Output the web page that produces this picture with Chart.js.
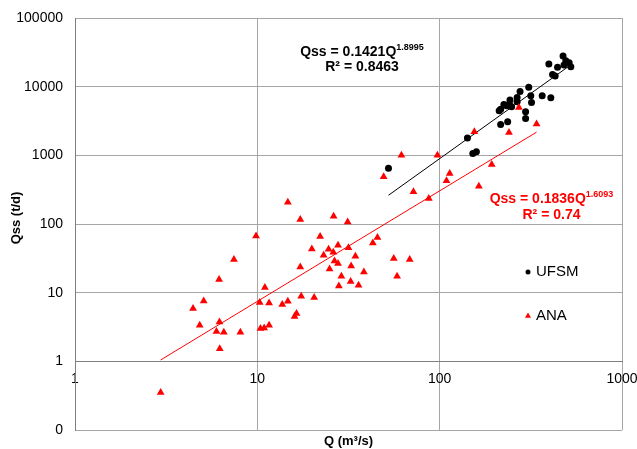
<!DOCTYPE html>
<html>
<head>
<meta charset="utf-8">
<title>Qss x Q</title>
<script src="https://cdn.jsdelivr.net/npm/chart.js@4.4.0/dist/chart.umd.min.js"></script>
<style>
  html, body { margin: 0; padding: 0; background: #fff; }
</style>
</head>
<body>
<canvas id="qssChart" width="637" height="449"></canvas>
<script>
// UFSM measurements (black dots)
const ufsmQ = [52.4, 142, 152, 159, 212, 216, 216, 225, 233, 236, 241, 243, 248, 266, 266, 276,
  296, 296, 308, 316, 319, 365, 397, 407, 416, 430, 443, 475, 481, 492, 513, 524];
const ufsmQss = [650, 1782, 1067, 1126, 4460, 4670, 2820, 5520, 5270, 3080, 5570, 6380, 5090, 6980, 6030, 8530,
  4300, 3450, 9770, 7360, 5900, 7360, 21300, 6890, 15100, 14300, 19100, 27900, 20700, 23900, 22300, 19500];

// ANA measurements (red triangles)
const anaQ = [2.95, 4.44, 4.83, 5.08, 5.97, 6.17, 6.2, 6.22, 6.55, 7.44, 8.07, 9.84, 10.3, 10.4, 10.9, 11.0,
  11.6, 11.6, 13.7, 14.7, 14.7, 16.0, 16.4, 17.2, 17.2, 17.4, 19.9, 20.5, 22.1, 23.1, 24.6, 24.9,
  26.1, 26.2, 26.5, 27.7, 27.7, 28, 28.9, 31.3, 31.6, 32.5, 32.7, 34.5, 35.9, 38.4, 43, 45.6,
  49.3, 56, 58.4, 61.7, 68.5, 71.8, 87.2, 97.2, 109, 113.5, 155, 164, 193, 240, 272, 340];
const anaQss = [0.353, 5.86, 3.35, 7.57, 2.71, 15.5, 3.74, 1.53, 2.65, 30.4, 2.65, 67, 7.2, 3.0, 3.05, 11.9,
  7.1, 3.35, 6.7, 7.5, 208, 4.5, 4.96, 116, 23.7, 8.87, 43.4, 8.48, 66, 35, 43, 22.1,
  38.8, 130, 29, 49, 26.6, 12.5, 17.3, 107, 45, 14.5, 24.5, 34, 12.8, 20, 53, 63.6,
  486, 31.4, 17.3, 1007, 30.4, 294, 235, 1000, 425, 545, 2200, 356, 737, 2157, 4990, 2850];

const xTicks = [1, 10, 100, 1000];
const yTicks = [0.1, 1, 10, 100, 1000, 10000, 100000];

// power trend lines as printed on the chart
const ufsmFit = { a: 0.1421, b: 1.8995, r2: '0.8463' };
const anaFit = { a: 0.1836, b: 1.6093, r2: '0.74' };

const FONT = "'Liberation Sans', Arial, sans-serif";

const toPoints = (xs, ys) => xs.map((x, i) => ({ x: x, y: ys[i] }));

const trendLine = (fit, xs) => {
  const q0 = Math.min(...xs);
  const q1 = Math.max(...xs);
  return [
    { x: q0, y: fit.a * Math.pow(q0, fit.b) },
    { x: q1, y: fit.a * Math.pow(q1, fit.b) },
  ];
};

// keep the plot box where the layout padding puts it
const noScalePadding = (scale) => {
  scale.paddingTop = 0;
  scale.paddingBottom = 0;
  scale.paddingLeft = 0;
  scale.paddingRight = 0;
};

const drawEquation = (ctx, fit, color, cx, y1, y2) => {
  const main = 'Qss = ' + String(fit.a) + 'Q';
  const sup = String(fit.b);
  ctx.font = 'bold 14px ' + FONT;
  const wMain = ctx.measureText(main).width;
  ctx.font = 'bold 9px ' + FONT;
  const wSup = ctx.measureText(sup).width;
  const x0 = cx - (wMain + wSup) / 2;

  ctx.fillStyle = color;
  ctx.textBaseline = 'alphabetic';
  ctx.textAlign = 'left';
  ctx.font = 'bold 14px ' + FONT;
  ctx.fillText(main, x0, y1);
  ctx.font = 'bold 9px ' + FONT;
  ctx.fillText(sup, x0 + wMain, y1 - 6);
  ctx.font = 'bold 14px ' + FONT;
  ctx.textAlign = 'center';
  ctx.fillText('R² = ' + fit.r2, cx, y2);
};

const annotations = {
  id: 'annotations',
  afterDraw(chart) {
    const ctx = chart.ctx;
    const area = chart.chartArea;
    ctx.save();

    drawEquation(ctx, ufsmFit, '#000000', 362, 55.5, 71);
    drawEquation(ctx, anaFit, '#ff0000', 551.5, 202.5, 218.5);

    // legend inside the plot
    const legendItems = [
      { label: 'UFSM', ds: chart.data.datasets[1], radius: 2.5, y: 272 },
      { label: 'ANA', ds: chart.data.datasets[0], radius: 3.5, y: 316 },
    ];
    legendItems.forEach((item) => {
      ctx.fillStyle = item.ds.backgroundColor;
      Chart.helpers.drawPoint(ctx, { pointStyle: item.ds.pointStyle, radius: item.radius, borderWidth: 0 }, 528, item.y);
      ctx.fillStyle = '#000000';
      ctx.font = '15px ' + FONT;
      ctx.textAlign = 'left';
      ctx.textBaseline = 'middle';
      ctx.fillText(item.label, 536, item.y);
    });

    // axis titles
    ctx.fillStyle = '#000000';
    ctx.font = 'bold 13px ' + FONT;
    ctx.textAlign = 'center';
    ctx.textBaseline = 'middle';
    ctx.fillText('Q (m³/s)', (area.left + area.right) / 2, 441);

    ctx.translate(16, 218);
    ctx.rotate(-Math.PI / 2);
    ctx.fillText('Qss (t/d)', 0, 0);

    ctx.restore();
  },
};

const ctx = document.getElementById('qssChart');

new Chart(ctx, {
  type: 'scatter',
  data: {
    datasets: [
      {
        label: 'ANA',
        data: toPoints(anaQ, anaQss),
        pointStyle: 'triangle',
        radius: 4.5,
        backgroundColor: '#ff0000',
        borderWidth: 0,
      },
      {
        label: 'UFSM',
        data: toPoints(ufsmQ, ufsmQss),
        pointStyle: 'circle',
        radius: 3.5,
        backgroundColor: '#000000',
        borderWidth: 0,
      },
      {
        label: 'UFSM trend',
        data: trendLine(ufsmFit, ufsmQ),
        showLine: true,
        pointRadius: 0,
        borderColor: '#000000',
        borderWidth: 1,
      },
      {
        label: 'ANA trend',
        data: trendLine(anaFit, anaQ),
        showLine: true,
        pointRadius: 0,
        borderColor: '#ff0000',
        borderWidth: 1,
      },
    ],
  },
  options: {
    responsive: false,
    animation: false,
    layout: {
      padding: { top: 18, right: 15, bottom: 19, left: 0 },
    },
    plugins: {
      legend: { display: false },
      tooltip: { enabled: false },
    },
    scales: {
      x: {
        type: 'logarithmic',
        position: { y: 1 },
        min: 1,
        max: 1000,
        afterBuildTicks: (scale) => {
          scale.ticks = xTicks.map((v) => ({ value: v }));
        },
        afterFit: noScalePadding,
        ticks: {
          autoSkip: false,
          maxRotation: 0,
          padding: 9,
          color: '#000000',
          font: { family: FONT, size: 14 },
          callback: (value) => String(value),
        },
        grid: { color: '#a6a6a6', drawTicks: false },
        border: { color: '#7f7f7f' },
      },
      y: {
        type: 'logarithmic',
        min: 0.1,
        max: 100000,
        afterBuildTicks: (scale) => {
          scale.ticks = yTicks.map((v) => ({ value: v }));
        },
        afterFit: (scale) => {
          scale.width = 75;
          noScalePadding(scale);
        },
        ticks: {
          autoSkip: false,
          padding: 12,
          color: '#000000',
          font: { family: FONT, size: 14 },
          callback: (value) => (value < 1 ? '0' : String(value)),
        },
        grid: { color: '#a6a6a6', drawTicks: false },
        border: { color: '#7f7f7f' },
      },
    },
  },
  plugins: [annotations],
});
</script>
</body>
</html>
